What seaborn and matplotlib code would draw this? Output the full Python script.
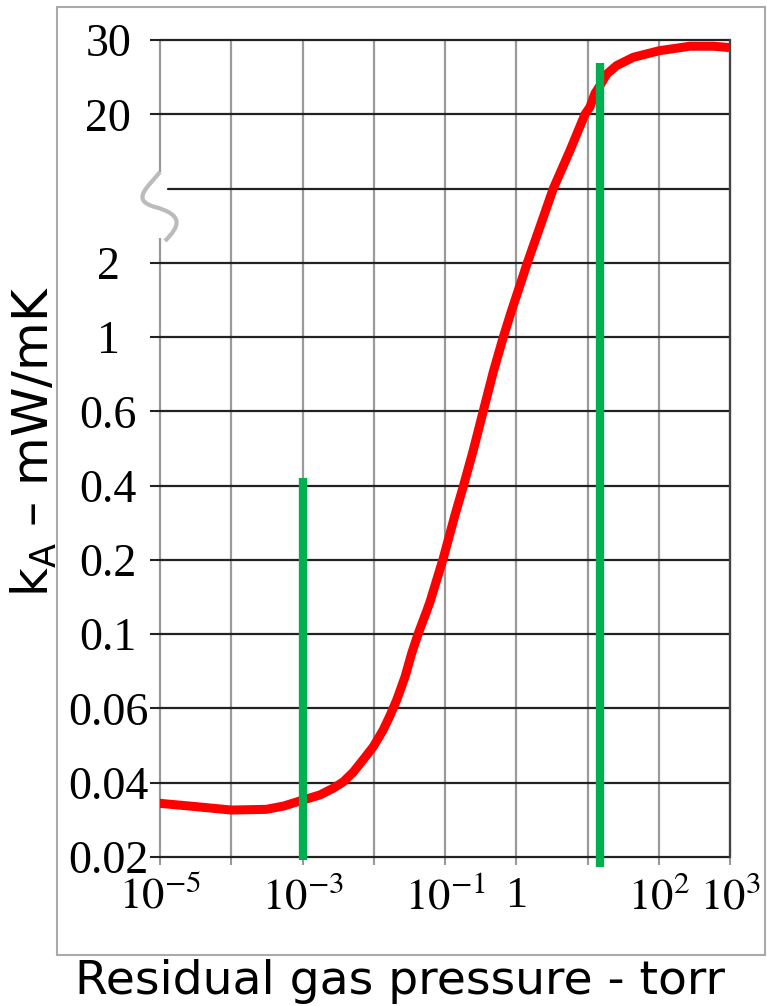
import numpy as np
import pandas as pd
import matplotlib
matplotlib.use("Agg")
import matplotlib.pyplot as plt
import seaborn as sns
from matplotlib.patches import Rectangle, PathPatch
from matplotlib.path import Path

# y axis: evenly spaced labels, with a break between 2 and 20
y_tick_vals = [0.02, 0.04, 0.06, 0.1, 0.2, 0.4, 0.6, 1, 2, 20, 30]
y_tick_text = ["0.02", "0.04", "0.06", "0.1", "0.2", "0.4", "0.6", "1", "2", "20", "30"]
break_val = 6.32  # level of the unlabeled line at the break

# x axis decades
x_decades = [1e-5, 1e-4, 1e-3, 1e-2, 1e-1, 1, 10, 1e2, 1e3]
x_tick_text = [r"$10^{-5}$", "", r"$10^{-3}$", "", r"$10^{-1}$", "1", "", r"$10^{2}$", r"$10^{3}$"]

# red curve
pressure = [1e-5, 3.2e-5, 1e-4, 3.1e-4, 5.5e-4, 1e-3, 1.76e-3, 2.7e-3, 3.74e-3, 5.17e-3,
            7.13e-3, 9.86e-3, 1.36e-2, 1.69e-2, 2.1e-2, 2.75e-2, 3.41e-2, 4.22e-2, 5.53e-2, 6.15e-2,
            9.46e-2, 0.138, 0.181, 0.25, 0.345, 0.476, 0.658, 0.863, 1.19, 1.43,
            2.15, 3.31, 5.68, 9.22, 10.8, 12.7, 15.0, 18.6, 25.7, 44.0,
            102, 275, 583, 947]
k_a = [0.0330, 0.0320, 0.0310, 0.0312, 0.0322, 0.0340, 0.0357, 0.0380, 0.0402, 0.0424,
       0.0454, 0.0487, 0.0534, 0.0577, 0.0636, 0.0746, 0.0877, 0.1008, 0.124, 0.135,
       0.203, 0.304, 0.398, 0.486, 0.602, 0.787, 1.0, 1.285, 1.70, 2.0,
       3.49, 6.32, 11.4, 20, 20.8, 22.4, 23.4, 24.9, 26.1, 27.3,
       28.3, 29.0, 29.0, 28.8]

# green markers
green_x = [1e-3, 15]
green_bottom = [0.0194, 0.0183]
green_top = [0.416, 26.5]

# scale: each labelled value sits one step apart
levels = np.log10([0.01] + y_tick_vals[:9] + [break_val] + y_tick_vals[9:] + [45])
steps = np.arange(len(levels)) - 1.0


def fwd(v):
    v = np.clip(np.asarray(v, dtype=float), 1e-9, None)
    return np.interp(np.log10(v), levels, steps)


def inv(p):
    return 10 ** np.interp(p, steps, levels)


sns.set_style("white")
plt.rcParams["font.family"] = ["DejaVu Sans"]
plt.rcParams["mathtext.fontset"] = "stix"
plt.rcParams["text.color"] = "black"

fig = plt.figure(figsize=(7.67, 10.06), dpi=100)
ax = fig.add_axes([160 / 767, 1 - 857 / 1006, 570 / 767, 817 / 1006])
ax.set_xscale("log")
ax.set_yscale("function", functions=(fwd, inv))

df = pd.DataFrame({"pressure": pressure, "k": k_a})
sns.lineplot(data=df, x="pressure", y="k", color="#ff0000", lw=6.5, ax=ax, zorder=4)
ax.vlines(green_x, green_bottom, green_top, color="#00b050", lw=6, zorder=5, clip_on=False)

ax.set_xlim(1e-5, 1e3)
ax.set_ylim(0.02, 30)
ax.set_xticks(x_decades)
ax.set_xticklabels(x_tick_text)
ax.xaxis.set_minor_locator(matplotlib.ticker.NullLocator())
ax.set_yticks(y_tick_vals)
ax.set_yticklabels(y_tick_text)
ax.yaxis.set_minor_locator(matplotlib.ticker.NullLocator())
ax.set_xlabel("")
ax.set_ylabel("")

ax.tick_params(axis="y", left=True, length=7.2, width=1.5, color="#222222",
               pad=30, labelsize=33, labelcolor="black")
ax.tick_params(axis="x", bottom=True, length=5.8, width=1.5, color="#999999",
               pad=8, labelsize=32, labelcolor="black")
for lab in ax.get_yticklabels():
    lab.set_horizontalalignment("center")
    lab.set_fontfamily("Liberation Serif")
for lab in ax.get_xticklabels():
    lab.set_fontfamily("Liberation Serif")

ax.set_axisbelow(True)
ax.grid(axis="y", color="#222222", lw=1.6)
ax.grid(axis="x", color="#9a9a9a", lw=1.6)
for gl in ax.get_xgridlines() + ax.get_ygridlines():
    gl.set_clip_on(False)
ax.axhline(break_val, xmin=0.014, color="#222222", lw=1.6, zorder=1.5)

for side in ["left", "top", "bottom"]:
    ax.spines[side].set_visible(False)
ax.spines["right"].set_color("#444444")
ax.spines["right"].set_linewidth(1.6)


# break mark on the left edge
def px(x, y):
    return ((x - 160) / 570, (857 - y) / 817)


ax.add_patch(Rectangle(px(150, 238), 22 / 570, 66 / 817, transform=ax.transAxes,
                       facecolor="white", edgecolor="none", zorder=1, clip_on=False))
verts = [px(160, 172), px(148, 187), px(130, 200), px(155, 207),
         px(184, 215), px(180, 226), px(165, 241)]
codes = [Path.MOVETO] + [Path.CURVE4] * 6
ax.add_patch(PathPatch(Path(verts, codes), transform=ax.transAxes, facecolor="none",
                       edgecolor="#bbbbbb", lw=3, zorder=2, clip_on=False))

# outer frame
fig.patches.append(Rectangle((57 / 767, 1 - 955 / 1006), 708 / 767, 948 / 1006,
                             transform=fig.transFigure, figure=fig, fill=False,
                             edgecolor="#aaaaaa", lw=1.5))

fig.text(34 / 767, 1 - 442 / 1006, r"$\mathregular{k_A}$ – mW/mK", rotation=90,
         ha="center", va="center", fontsize=36, math_fontfamily="dejavusans")
fig.text(400 / 767, 1 - 982 / 1006, "Residual gas pressure - torr",
         ha="center", va="center", fontsize=34)

fig.savefig("out.png", dpi=100)
